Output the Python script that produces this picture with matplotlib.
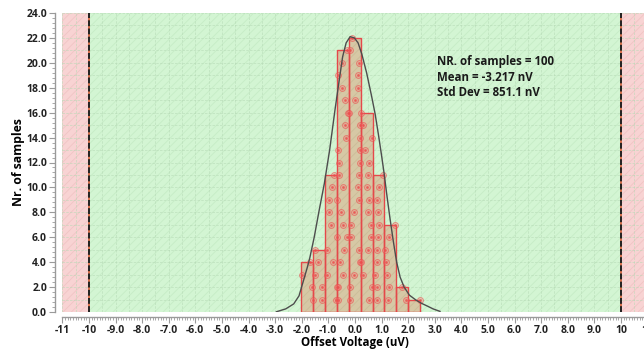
import numpy as np
import matplotlib
matplotlib.use('Agg')
import matplotlib.pyplot as plt
from matplotlib.ticker import MultipleLocator, FuncFormatter

plt.rcParams.update({'font.family': ['Open Sans', 'DejaVu Sans'],
                     'font.weight': 'bold',
                     'hatch.linewidth': 0.6})

# histogram bins (uV)
BIN_START = -2.02
BIN_WIDTH = 0.447

# sample values (uV) per bin, stacked in order 1..n inside each bin
SAMPLES = [
    [-1.59, -1.61, -2.00, -1.69],
    [-1.22, -1.22, -1.50, -1.37, -1.50],
    [-0.71, -0.68, -1.06, -0.81, -1.06, -0.68, -0.90, -0.97, -0.97, -0.87, -0.77],
    [-0.62, -0.62, -0.43, -0.56, -0.40, -0.31, -0.43, -0.52, -0.66, -0.43, -0.60,
     -0.60, -0.62, -0.35, -0.37, -0.25, -0.37, -0.50, -0.65, -0.50, -0.31],
    [-0.18, -0.18, -0.03, 0.19, 0.16, -0.16, -0.15, -0.02, 0.16, 0.13, 0.16,
     0.19, 0.19, 0.19, 0.21, -0.21, 0.00, 0.11, 0.11, 0.16, -0.18, -0.12],
    [0.54, 0.64, 0.29, 0.23, 0.51, 0.59, 0.59, 0.48, 0.54, 0.47, 0.51,
     0.54, 0.38, 0.63, 0.32, 0.23],
    [0.82, 0.84, 0.76, 0.82, 0.82, 0.88, 0.91, 0.86, 0.84, 0.92, 1.07],
    [1.26, 1.28, 1.20, 1.17, 1.13, 1.30, 1.51],
    [1.92, 1.76],
    [2.43],
]

# fitted distribution curve (uV, count)
CURVE_X = [-2.95, -2.6, -2.3, -2.1, -1.95, -1.8, -1.7, -1.53, -1.34, -1.15, -0.95,
           -0.75, -0.59, -0.46, -0.33, -0.18, -0.02, 0.12, 0.26, 0.44, 0.63, 0.76,
           0.88, 1.0, 1.1, 1.2, 1.32, 1.45, 1.57, 1.7, 1.85, 2.05, 2.3, 2.5, 2.7,
           2.95, 3.2]
CURVE_Y = [0.02, 0.25, 0.65, 1.3, 2.4, 3.5, 4.3, 6.0, 8.2, 10.3, 13.0,
           16.2, 18.6, 20.5, 21.6, 22.1, 22.0, 21.6, 20.7, 19.2, 17.3, 15.9,
           14.3, 12.6, 11.1, 9.4, 7.5, 5.6, 4.0, 2.8, 2.0, 1.35, 0.95, 0.7, 0.5,
           0.24, 0.05]

LIMIT_LO, LIMIT_HI = -10, 10
STATS = ['NR. of samples = 100', 'Mean = -3.217 nV', 'Std Dev = 851.1 nV']

GREEN = '#d3f5d3'
GREEN_H = '#c6ecc6'
RED = '#f8d3d3'
RED_H = '#f0c4c4'

FIG = plt.figure(figsize=(6.44, 3.49), dpi=100)
ax = FIG.add_axes([62.3 / 644, 37 / 349, 585.2 / 644, 299 / 349])
ax.set_xlim(-11, 11)
ax.set_ylim(0, 24)

# pass / fail zones
ax.axvspan(-11, LIMIT_LO, facecolor=RED, edgecolor=RED_H, hatch='////', lw=0, zorder=0.1)
ax.axvspan(LIMIT_HI, 11, facecolor=RED, edgecolor=RED_H, hatch='////', lw=0, zorder=0.1)
ax.axvspan(LIMIT_LO, LIMIT_HI, facecolor=GREEN, edgecolor=GREEN_H, hatch='////', lw=0, zorder=0.1)

# grid
ax.vlines(np.arange(-11, 11.01, 0.5), 0, 24, colors='#b5d9b5', lw=0.6,
          linestyles=(0, (3, 1.5)), alpha=0.6, zorder=0.3)
ax.hlines(np.arange(0, 24.01, 1), -11, 11, colors='#b5d9b5', lw=0.6,
          linestyles=(0, (3, 1.5)), alpha=0.6, zorder=0.3)

# limit lines
for lim in (LIMIT_LO, LIMIT_HI):
    ax.axvline(lim, color='#d9704a', lw=1.4, zorder=1)
    ax.axvline(lim, color='#222222', lw=1.4, ls=(0, (3, 1.2)), zorder=1.1)

# histogram
counts = [len(s) for s in SAMPLES]
lefts = [BIN_START + i * BIN_WIDTH for i in range(len(counts))]
ax.bar(lefts, counts, width=BIN_WIDTH, align='edge', facecolor='#d6c8a5',
       edgecolor='#cbbc99', hatch='////', lw=0, zorder=2)
ax.bar(lefts, counts, width=BIN_WIDTH, align='edge', facecolor='none',
       edgecolor='#e5484a', lw=1.0, zorder=2.2)

# individual samples
for vals in SAMPLES:
    ys = np.arange(1, len(vals) + 1)
    ax.plot(vals, ys, 'o', ms=4.2, mfc=(1, 0.5, 0.5, 0.25),
            mec=(0.92, 0.3, 0.3, 0.6), mew=0.7, zorder=3)
    ax.plot(vals, ys, 'o', ms=1.2, color=(0.92, 0.3, 0.3, 0.6), zorder=3.1)

ax.plot(CURVE_X, CURVE_Y, color='#4d4d4d', lw=1.0, zorder=4)

ax.text(3.09, 20.6, '\n'.join(STATS), fontsize=8.3, fontweight='bold',
        color='#1a1a1a', va='top', ha='left', linespacing=1.25, zorder=5)

# axes styling
for side in ('top', 'right'):
    ax.spines[side].set_visible(False)
ax.spines['left'].set_position(('outward', 5))
ax.spines['bottom'].set_position(('outward', 3.6))
for side in ('left', 'bottom'):
    ax.spines[side].set_color('#9a9a9a')
    ax.spines[side].set_linewidth(1.0)

ax.xaxis.set_major_locator(MultipleLocator(1))
ax.xaxis.set_minor_locator(MultipleLocator(0.1))
ax.yaxis.set_major_locator(MultipleLocator(2))
ax.yaxis.set_minor_locator(MultipleLocator(0.4))


def xfmt(v, pos):
    if abs(v) < 1e-9:
        return '0.0'
    if abs(v) >= 10:
        return '%d' % round(v)
    return '%.1f' % v


ax.xaxis.set_major_formatter(FuncFormatter(xfmt))
ax.yaxis.set_major_formatter(FuncFormatter(lambda v, p: '%.1f' % v))
ax.tick_params(which='major', length=4, width=0.8, color='#9a9a9a',
               labelsize=7.5, labelcolor='#222222', pad=2)
ax.tick_params(which='minor', length=2.2, width=0.6, color='#9a9a9a')
for lab in ax.get_xticklabels() + ax.get_yticklabels():
    lab.set_fontweight('bold')

ax.set_xlabel('Offset Voltage (uV)', fontsize=8.3, fontweight='bold', labelpad=0)
ax.set_ylabel('Nr. of samples', fontsize=8.8, fontweight='bold', labelpad=1)

plt.savefig('out.png', dpi=100)
